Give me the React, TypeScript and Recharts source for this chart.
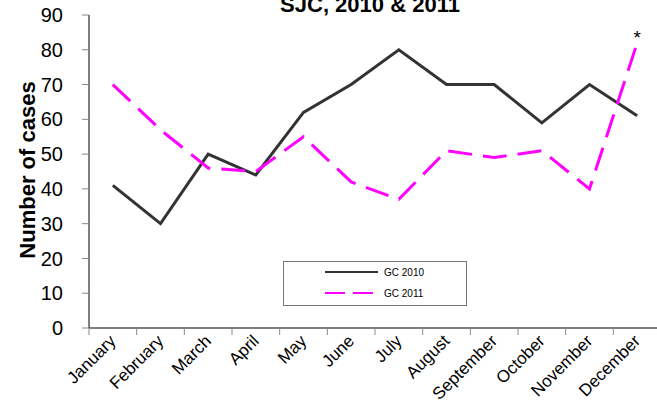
import React from 'react';
import { LineChart, Line, XAxis, YAxis } from 'recharts';

const months = ['January', 'February', 'March', 'April', 'May', 'June', 'July', 'August', 'September', 'October', 'November', 'December'];
const gc2010 = [41, 30, 50, 44, 62, 70, 80, 70, 70, 59, 70, 61];
const gc2011 = [70, 57, 46, 45, 55, 42, 37, 51, 49, 51, 40, 82];
const yTicks = [0, 10, 20, 30, 40, 50, 60, 70, 80, 90];

const chartData = months.map((m, i) => ({
    x: i + 0.5,
    name: m,
    gc2010: gc2010[i],
    gc2011: gc2011[i],
}));

// labels sit at category centres, tick marks at category boundaries
const xTicks = months.flatMap((_, i) => [i, i + 0.5]).concat([months.length]);

const FONT = 'Liberation Sans, Arial, sans-serif';

const MonthTick = (props: any) => {
    const { x, y, payload } = props;
    const v = payload.value;
    if (Number.isInteger(v)) {
        return <line x1={x} y1={y} x2={x} y2={y + 7} stroke="#888" strokeWidth={1} />;
    }
    const label = months[Math.round(v - 0.5)];
    const ax = x + 4;
    const ay = y + 14;
    return (
        <text x={ax} y={ay} transform={`rotate(-45, ${ax}, ${ay})`} textAnchor="end" fontSize={17} fontFamily={FONT} fill="#000">
            {label}
        </text>
    );
};

const Star = (props: any) => {
    const { x, y, index } = props;
    if (index !== months.length - 1) return null;
    return (
        <text x={x} y={y + 1} textAnchor="middle" fontSize={19} fontFamily={FONT} fill="#000">
            *
        </text>
    );
};

const LegendBox = () => (
    <svg width={184} height={45}>
        <rect x={0.5} y={0.5} width={183} height={44} fill="#fff" stroke="#777" />
        <line x1={42} y1={11} x2={95} y2={11} stroke="#333" strokeWidth={2} />
        <text x={101} y={14.5} fontSize={10} fontFamily={FONT} fill="#000">GC 2010</text>
        <line x1={42} y1={32} x2={95} y2={32} stroke="#FF00FF" strokeWidth={2} strokeDasharray="20 8" />
        <text x={101} y={35.5} fontSize={10} fontFamily={FONT} fill="#000">GC 2011</text>
    </svg>
);

export default function App() {
    return (
        <div style={{ position: 'absolute', left: 0, top: 0, width: 657, height: 416, overflow: 'hidden', background: '#fff', fontFamily: FONT }}>
            <LineChart width={670} height={416} data={chartData} margin={{ top: 15, right: 9, bottom: 87, left: 39 }}>
                <XAxis
                    type="number"
                    dataKey="x"
                    domain={[0, 12]}
                    ticks={xTicks}
                    tick={<MonthTick />}
                    tickLine={false}
                    tickSize={0}
                    tickMargin={0}
                    axisLine={{ stroke: '#000' }}
                    height={1}
                    interval={0}
                />
                <YAxis
                    domain={[0, 90]}
                    ticks={yTicks}
                    width={50}
                    tickSize={7}
                    tickMargin={19}
                    axisLine={{ stroke: '#000' }}
                    tickLine={{ stroke: '#888' }}
                    tick={{ fontSize: 20, fill: '#000', fontFamily: FONT }}
                    interval={0}
                />
                <Line
                    dataKey="gc2010"
                    name="GC 2010"
                    stroke="#333333"
                    strokeWidth={3}
                    dot={false}
                    isAnimationActive={false}
                />
                <Line
                    dataKey="gc2011"
                    name="GC 2011"
                    stroke="#FF00FF"
                    strokeWidth={3}
                    strokeDasharray="24 11"
                    dot={false}
                    label={<Star />}
                    isAnimationActive={false}
                />
            </LineChart>
            <div style={{ position: 'absolute', left: 220, top: -8, width: 300, textAlign: 'center', fontWeight: 'bold', fontSize: 22 }}>
                SJC, 2010 &amp; 2011
            </div>
            <div
                style={{
                    position: 'absolute',
                    left: 28,
                    top: 170,
                    transform: 'translate(-50%, -50%) rotate(-90deg)',
                    fontWeight: 'bold',
                    fontSize: 22,
                    whiteSpace: 'nowrap',
                }}
            >
                Number of cases
            </div>
            <div style={{ position: 'absolute', left: 283, top: 261, width: 184, height: 45 }}>
                <LegendBox />
            </div>
        </div>
    );
}
